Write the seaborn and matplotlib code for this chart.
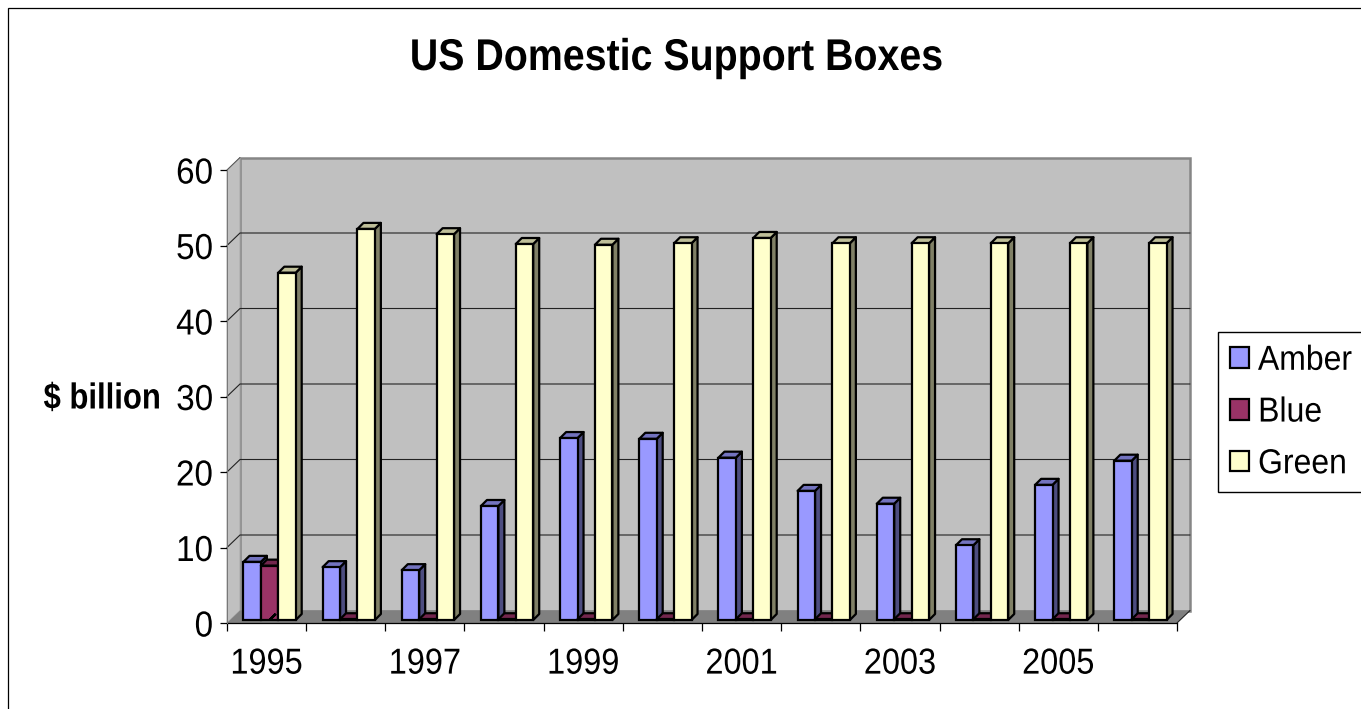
import matplotlib
matplotlib.use('Agg')
import matplotlib.pyplot as plt
import numpy as np
import pandas as pd
import seaborn as sns
from matplotlib.colors import to_rgb
from matplotlib.patches import Polygon, Rectangle
from matplotlib.patheffects import AbstractPathEffect
from matplotlib.transforms import Affine2D

years = ['1995', '1996', '1997', '1998', '1999', '2000', '2001', '2002', '2003', '2004', '2005', '2006']
amber = [7.7, 7.0, 6.6, 15.1, 24.1, 24.0, 21.5, 17.1, 15.4, 9.9, 17.9, 21.1]
blue = [7.2, 0.1, 0.1, 0.1, 0.1, 0.1, 0.1, 0.1, 0.1, 0.1, 0.1, 0.1]
green = [46.0, 51.8, 51.1, 49.8, 49.7, 49.9, 50.6, 49.9, 49.9, 49.9, 49.9, 49.9]
series_names = ['Amber', 'Blue', 'Green']
series_colors = ['#9999FF', '#993366', '#FFFFCC']
y_ticks = [0, 10, 20, 30, 40, 50, 60]

# Pixel layout of the front plane of the chart
FIG_W, FIG_H = 1361, 709
LEFT, RIGHT, TOP, BOTTOM = 227, 1177, 170, 623
X_PER_PX = 12 / (RIGHT - LEFT)
Y_PER_PX = 60 / (BOTTOM - TOP)
WALL_DX, WALL_DY = 13 * X_PER_PX, 12.5 * Y_PER_PX
BAR_DX, BAR_DY = 3 * X_PER_PX, 3 * Y_PER_PX
DEPTH_DX, DEPTH_DY = 6 * X_PER_PX, 6 * Y_PER_PX
BAR_LW = 1.6


class Squeeze(AbstractPathEffect):
    """Narrows a text horizontally, the reference text is a bit condensed."""

    def __init__(self, factor, anchor=0.5):
        super().__init__()
        self.factor = factor
        self.anchor = anchor

    def draw_path(self, renderer, gc, tpath, affine, rgbFace=None):
        box = tpath.get_extents(affine)
        x = box.x0 + self.anchor * box.width
        squeezed = affine + Affine2D().translate(-x, 0).scale(self.factor, 1).translate(x, 0)
        renderer.draw_path(gc, tpath, squeezed, rgbFace)


def shade(color, factor):
    return tuple(c * factor for c in to_rgb(color))


def draw_walls(ax):
    x0, x1 = -0.5, 11.5
    wall = dict(clip_on=False, zorder=0.5)
    ax.add_patch(Polygon([(x0 + WALL_DX, WALL_DY), (x1 + WALL_DX, WALL_DY), (x1 + WALL_DX, 60 + WALL_DY),
                          (x0 + WALL_DX, 60 + WALL_DY)], facecolor='#C0C0C0', edgecolor='#868686', lw=1.8, **wall))
    ax.add_patch(Polygon([(x0, 0), (x0 + WALL_DX, WALL_DY), (x0 + WALL_DX, 60 + WALL_DY), (x0, 60)],
                         facecolor='#C0C0C0', edgecolor='#A8A8A8', lw=0.7, **wall))
    ax.add_patch(Polygon([(x0, 0), (x1, 0), (x1 + WALL_DX, WALL_DY), (x0 + WALL_DX, WALL_DY)],
                         facecolor='#808080', edgecolor='none', **wall))
    for v in y_ticks[1:-1]:
        ax.plot([x0, x0 + WALL_DX, x1 + WALL_DX], [v, v + WALL_DY, v + WALL_DY], color='#222222', lw=0.8,
                clip_on=False, zorder=0.7)
    ax.plot([x0, x0 + WALL_DX], [60, 60 + WALL_DY], color='#555555', lw=0.7, clip_on=False, zorder=0.7)
    ax.plot([x1, x1 + WALL_DX], [0, WALL_DY], color='#222222', lw=0.8, clip_on=False, zorder=0.7)


def make_bars_3d(ax):
    # Shift the seaborn bars off the front plane and add their side and top faces
    for idx, bar in enumerate(ax.patches):
        x, w, h = bar.get_x(), bar.get_width(), bar.get_height()
        x += BAR_DX
        bar.set_x(x)
        bar.set_y(BAR_DY)
        y = BAR_DY + h
        base_color = bar.get_facecolor()[:3]
        order = 2 + 0.01 * idx
        bar.set_zorder(order + 0.005)
        ax.add_patch(Polygon([(x + w, BAR_DY), (x + w + DEPTH_DX, BAR_DY + DEPTH_DY), (x + w + DEPTH_DX, y + DEPTH_DY),
                              (x + w, y)], facecolor=shade(base_color, 0.5), edgecolor='black', lw=BAR_LW,
                             joinstyle='round', zorder=order, clip_on=False))
        ax.add_patch(Polygon([(x, y), (x + w, y), (x + w + DEPTH_DX, y + DEPTH_DY), (x + DEPTH_DX, y + DEPTH_DY)],
                             facecolor=shade(base_color, 0.75), edgecolor='black', lw=BAR_LW,
                             joinstyle='round', zorder=order, clip_on=False))


df = pd.DataFrame({
    'year': years * 3,
    'series': np.repeat(series_names, len(years)),
    'value': amber + blue + green,
})

sns.set_theme(style='white')
plt.rcParams['font.family'] = ['Liberation Sans', 'DejaVu Sans']
plt.rcParams['text.color'] = 'black'

fig = plt.figure(figsize=(FIG_W / 100, FIG_H / 100), dpi=100)
ax = fig.add_axes([LEFT / FIG_W, 1 - BOTTOM / FIG_H, (RIGHT - LEFT) / FIG_W, (BOTTOM - TOP) / FIG_H])
ax.patch.set_visible(False)

sns.barplot(data=df, x='year', y='value', hue='series', hue_order=series_names, palette=series_colors,
            order=years, width=0.66, gap=0, saturation=1, edgecolor='black', linewidth=BAR_LW, ax=ax)

handles, labels = ax.get_legend_handles_labels()
ax.get_legend().remove()

ax.set_xlim(-0.5, 11.5)
ax.set_ylim(0, 60)
make_bars_3d(ax)
draw_walls(ax)

for side in ['top', 'right']:
    ax.spines[side].set_visible(False)
ax.spines['bottom'].set_color('black')
ax.spines['bottom'].set_linewidth(0.9)
ax.spines['bottom'].set_zorder(1)
ax.spines['left'].set_color('#777777')
ax.spines['left'].set_linewidth(0.7)

ax.set_xticks(range(0, 12, 2), years[::2])
ax.set_xticks(np.arange(-0.5, 12), minor=True)
ax.tick_params(axis='x', which='major', length=0, pad=17, labelsize=26, labelcolor='black')
ax.tick_params(axis='x', which='minor', length=6, width=0.9, color='black', bottom=True)
ax.set_yticks(y_ticks)
ax.tick_params(axis='y', length=5, width=0.9, color='black', left=True, pad=5, labelsize=26, labelcolor='black')
for label in ax.get_xticklabels():
    label.set_path_effects([Squeeze(0.9)])
for label in ax.get_yticklabels():
    label.set_path_effects([Squeeze(0.92, anchor=1)])

ax.set_xlabel('')
ax.set_ylabel('$ billion', rotation=0, fontsize=26, fontweight='bold', color='black', ha='right', va='center',
              path_effects=[Squeeze(0.86, anchor=1)])
ax.yaxis.set_label_coords((161 - LEFT) / (RIGHT - LEFT), (BOTTOM - 399) / (BOTTOM - TOP))

fig.text(677 / FIG_W, 1 - 70 / FIG_H, 'US Domestic Support Boxes', ha='center', va='baseline',
         fontsize=32, fontweight='bold', color='black', path_effects=[Squeeze(0.885)])

# Chart area border runs off the right and bottom of the picture
fig.add_artist(Rectangle((8 / FIG_W, -0.1), 1.1, 1.1 - 8 / FIG_H, transform=fig.transFigure,
                         fill=False, edgecolor='black', lw=0.9))

legend = fig.legend(handles, labels, loc='upper left', bbox_to_anchor=(1218 / FIG_W, 1 - 332 / FIG_H), borderaxespad=0,
                    fontsize=25, labelcolor='black', frameon=True, fancybox=False, framealpha=1, edgecolor='black',
                    borderpad=0.34, handlelength=0.55, handleheight=0.55, handletextpad=0.26, labelspacing=0.54)
for text in legend.get_texts():
    text.set_path_effects([Squeeze(0.92, anchor=0)])

fig.savefig('out.png', dpi=100)
